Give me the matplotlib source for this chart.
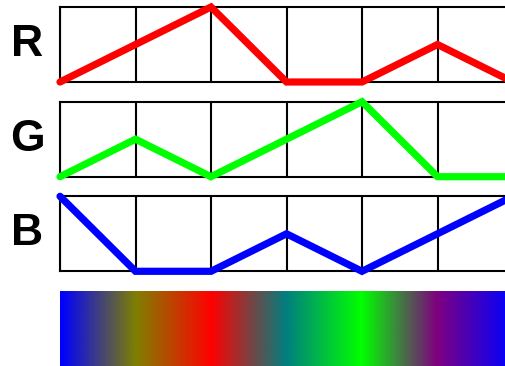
import numpy as np
import matplotlib
matplotlib.use('Agg')
import matplotlib.pyplot as plt
from matplotlib.colors import LinearSegmentedColormap

steps = [0, 1, 2, 3, 4, 5, 6]
red = [0, 0.5, 1, 0, 0, 0.5, 0]
green = [0, 0.5, 0, 0.5, 1, 0, 0]
blue = [1, 0, 0, 0.5, 0, 0.5, 1]
channels = ['R', 'G', 'B']
line_colors = ['#ff0000', '#00ff00', '#0000ff']

W, H = 505, 366
fig = plt.figure(figsize=(W / 100, H / 100), dpi=100)

# panel geometry in pixels (the panels run past the right edge of the figure)
left = 60
width = 453
height = 75
tops = [7, 101.7, 196.3, 291]


def axes_at(top):
    return fig.add_axes([left / W, 1 - (top + height) / H, width / W, height / H])


for name, values, color, top in zip(channels, [red, green, blue], line_colors, tops[:3]):
    ax = axes_at(top)
    ax.plot(steps, values, color=color, lw=5.2, solid_capstyle='round',
            solid_joinstyle='miter', clip_on=False, zorder=5)
    ax.set_xlim(0, 6)
    ax.set_ylim(0, 1)
    ax.set_xticks(steps)
    ax.set_yticks([])
    ax.tick_params(length=0, labelbottom=False)
    ax.grid(axis='x', color='black', lw=1.5)
    for s in ax.spines.values():
        s.set_linewidth(1.5)
        s.set_color('black')
    ax.text(-33 / width, 0.5, name, transform=ax.transAxes, ha='center', va='center',
            fontsize=32, fontweight='bold', family='Liberation Sans')

# colour strip built from the three channels
stops = [s / steps[-1] for s in steps]
cmap = LinearSegmentedColormap.from_list(
    'rgb_strip', list(zip(stops, zip(red, green, blue))))
cax = axes_at(tops[3])
cax.imshow(np.linspace(0, 1, 600)[None, :], aspect='auto', cmap=cmap,
           extent=[0, 6, 0, 1], interpolation='bilinear')
cax.axis('off')

fig.savefig('out.png', dpi=100)
